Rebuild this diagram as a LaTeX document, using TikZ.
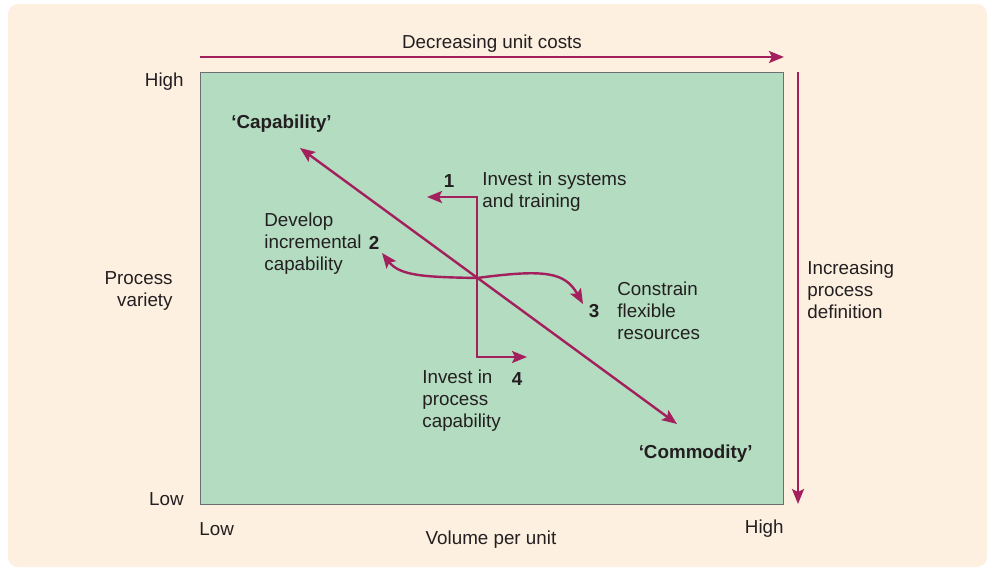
\documentclass[tikz,border=0pt]{standalone}
\usepackage{fontspec}
\setmainfont{Liberation Sans}
\usepackage{xcolor}
\usetikzlibrary{arrows.meta,positioning,calc}
\definecolor{paper}{HTML}{FDF0E1}
\definecolor{field}{HTML}{B3DCC1}
\definecolor{plum}{HTML}{A3205C}
\definecolor{ink}{HTML}{231F20}
\definecolor{rim}{HTML}{6D6E71}
\begin{document}
\begin{tikzpicture}[x=0.5pt, y=-0.5pt, >={Stealth[length=7.5pt,width=6pt,inset=1.5pt]},
  font=\fontsize{9.4}{11}\selectfont,
  lbl/.style={inner sep=0pt, text=ink, align=left},
  num/.style={inner sep=0pt, text=ink, font=\fontsize{9.4}{11}\selectfont\bfseries},
  flow/.style={plum, line width=1.2pt}]
\useasboundingbox (0,0) rectangle (987,569);
\fill[paper, rounded corners=5pt] (8,4) rectangle (987,567);
\draw[rim, fill=field, line width=0.5pt] (200,72) rectangle (783,504);
% axes
\coordinate (tl) at (200,57);
\coordinate (tr) at (784,57);
\coordinate (rt) at (798,72);
\coordinate (rb) at (798,504);
\draw[flow, ->] (tl) -- (tr);
\draw[flow, ->] (rt) -- (rb);
\node[lbl] (cost) at (492,44) {Decreasing unit costs};
\node[lbl, anchor=west] (defn) at (807,290) {Increasing\\process\\definition};
\node[lbl, anchor=east] (yhi) at (184,82) {High};
\node[lbl, anchor=east] (ylo) at (184,499) {Low};
\node[lbl, anchor=east, align=right] (yvar) at (173,291) {Process\\variety};
\node[lbl, anchor=west] (xlo) at (199,529) {Low};
\node[lbl, anchor=east] (xhi) at (784,529) {High};
\node[lbl] (xvol) at (491,540) {Volume per unit};
% diagonal
\node[num, anchor=west] (cap) at (231,124) {`Capability'};
\node[num, anchor=east] (com) at (753,454) {`Commodity'};
\coordinate (d1) at (300,148);
\coordinate (d2) at (677,424);
\draw[flow, <->] (d1) -- (d2);
% the four moves
\coordinate (c) at (477,278);
\coordinate (a1) at (427,197);
\coordinate (a4) at (527,357);
\coordinate (a2) at (382,253);
\coordinate (a3) at (583,304);
\draw[flow, ->] (c) |- (a1);
\draw[flow, ->] (c) |- (a4);
\draw[flow, ->] (c) .. controls (425,277) and (400,276) .. (a2);
\draw[flow, ->] (c) .. controls (545,269) and (565,272) .. (a3);
\node[num] (n1) at (449,181) {1};
\node[lbl, anchor=west] (t1) at (482,192) {Invest in systems\\and training};
\node[num] (n2) at (374,243) {2};
\node[lbl, anchor=west] (t2) at (264,244) {Develop\\incremental\\capability};
\node[num] (n3) at (594,311) {3};
\node[lbl, anchor=west] (t3) at (617,311) {Constrain\\flexible\\resources};
\node[num] (n4) at (517,379) {4};
\node[lbl, anchor=west] (t4) at (422,401) {Invest in\\process\\capability};
\end{tikzpicture}
\end{document}
